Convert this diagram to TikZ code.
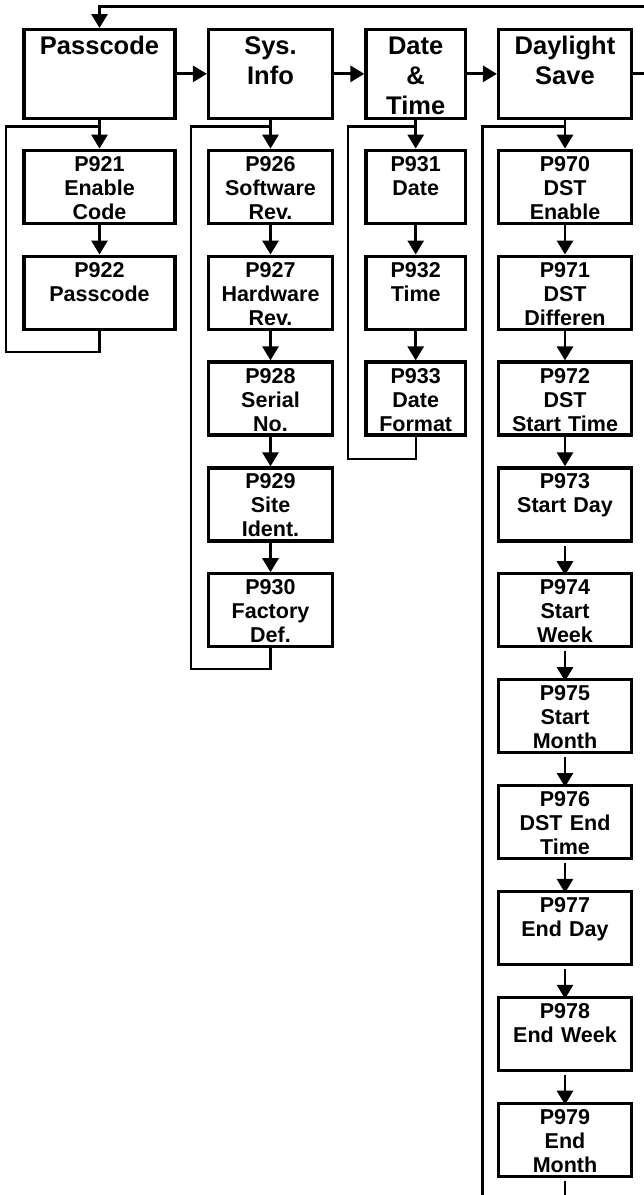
\documentclass[tikz,border=0pt]{standalone}
\usepackage{fontspec}
\setmainfont{Liberation Sans}
\usetikzlibrary{arrows.meta}

\begin{document}
\begin{tikzpicture}[x=1pt, y=-1pt,
  head/.style={draw, line width=3.2pt, inner sep=0pt, anchor=north, align=center, text width=#1, text height=25pt, text depth=63.5pt, font=\bfseries\fontsize{25.5}{30}\selectfont},
  item/.style={draw, line width=3.2pt, inner sep=0pt, anchor=north, align=center, text width=#1, text height=21pt, text depth=52pt, font=\bfseries\fontsize{21.5}{24}\selectfont},
  arr/.style={line width=2.9pt, -{Triangle[length=14pt,width=16pt]}},
  lagarr/.style={arr, shorten <=3pt, shorten >=-3pt},
  loopline/.style={line width=2.4pt}]
\useasboundingbox (0,0) rectangle (644,1195);
\fill[white] (0,0) rectangle (644,1195);
\node[head=151pt] (pass) at (99.5,28) {Passcode};
\node[head=124pt] (sys) at (270.5,28) {Sys.\\Info};
\node[head=99.5pt] (datetime) at (415.7,28) {Date\\\&\\Time};
\node[head=133pt] (dst) at (565,28) {Daylight\\Save};
\node[item=151pt] (p921) at (99.5,148.6) {P921\\Enable\\Code};
\node[item=151pt] (p922) at (99.5,254.5) {P922\\Passcode};
\node[item=124pt] (p926) at (270.5,148.6) {P926\\Software\\Rev.};
\node[item=124pt] (p927) at (270.5,254.5) {P927\\Hardware\\Rev.};
\node[item=124pt] (p928) at (270.5,360.4) {P928\\Serial\\No.};
\node[item=124pt] (p929) at (270.5,466.3) {P929\\Site\\Ident.};
\node[item=124pt] (p930) at (270.5,572.2) {P930\\Factory\\Def.};
\node[item=99.5pt] (p931) at (415.7,148.6) {P931\\Date};
\node[item=99.5pt] (p932) at (415.7,254.5) {P932\\Time};
\node[item=99.5pt] (p933) at (415.7,360.4) {P933\\Date\\Format};
\node[item=133pt] (p970) at (565,148.6) {P970\\DST\\Enable};
\node[item=133pt] (p971) at (565,254.5) {P971\\DST\\Differen};
\node[item=133pt] (p972) at (565,360.4) {P972\\DST\\Start Time};
\node[item=133pt] (p973) at (565,466.3) {P973\\Start Day};
\node[item=133pt] (p974) at (565,572.2) {P974\\Start\\Week};
\node[item=133pt] (p975) at (565,678.1) {P975\\Start\\Month};
\node[item=133pt] (p976) at (565,784) {P976\\DST End\\Time};
\node[item=133pt] (p977) at (565,889.9) {P977\\End Day};
\node[item=133pt] (p978) at (565,995.8) {P978\\End Week};
\node[item=133pt] (p979) at (565,1101.7) {P979\\End\\Month};
\coordinate (back) at (652,6);
\coordinate (passj) at (99.5,126.5);
\coordinate (passl) at (6,352);
\coordinate (sysj) at (270.5,126.5);
\coordinate (sysl) at (191,669);
\coordinate (datej) at (415.7,126.5);
\coordinate (datel) at (348,459);
\coordinate (dstj) at (565,126.5);
\coordinate (dstl) at (482.5,1215);
\coordinate (dstend) at (565,1230);
\draw[arr] (pass) -- (sys);
\draw[arr] (sys) -- (datetime);
\draw[arr] (datetime) -- (dst);
\draw[arr, line width=3pt] (dst.east) -| (back) -| (pass.north);
\draw[arr] (pass) -- (p921);
\draw[arr] (p921) -- (p922);
\draw[arr] (sys) -- (p926);
\draw[arr] (p926) -- (p927);
\draw[arr] (p927) -- (p928);
\draw[arr] (p928) -- (p929);
\draw[arr] (p929) -- (p930);
\draw[arr] (datetime) -- (p931);
\draw[arr] (p931) -- (p932);
\draw[arr] (p932) -- (p933);
\draw[arr] (dst) -- (p970);
\draw[arr] (p970) -- (p971);
\draw[arr] (p971) -- (p972);
\draw[arr] (p972) -- (p973);
\draw[lagarr] (p973) -- (p974);
\draw[lagarr] (p974) -- (p975);
\draw[lagarr] (p975) -- (p976);
\draw[lagarr] (p976) -- (p977);
\draw[lagarr] (p977) -- (p978);
\draw[lagarr] (p978) -- (p979);
\draw[lagarr] (p979) -- (dstend);
\draw[loopline] (p922.south) |- (passl) |- (passj);
\draw[loopline] (p930.south) |- (sysl) |- (sysj);
\draw[loopline] (p933.south) |- (datel) |- (datej);
\draw[loopline] (dstl) |- (dstj);
\end{tikzpicture}
\end{document}
